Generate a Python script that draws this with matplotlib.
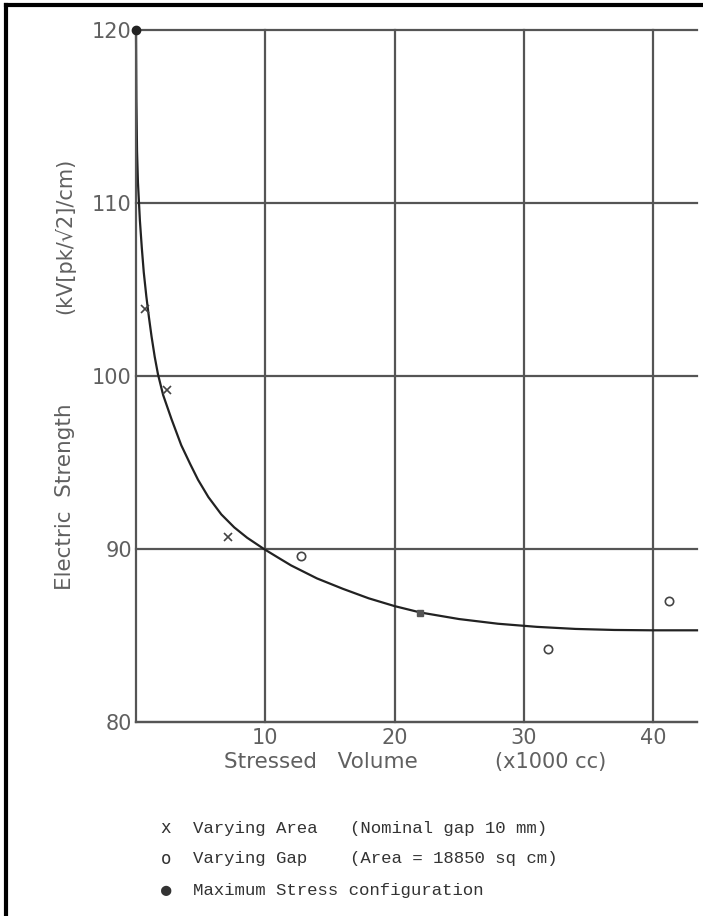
import matplotlib.pyplot as plt
from matplotlib.lines import Line2D

# fitted curve (x in thousands of cc, y in kV/cm)
curve_x = [0, 0.03, 0.08, 0.15, 0.3, 0.45, 0.6, 0.8, 1.0, 1.2, 1.45, 1.7, 2.1, 2.75, 3.5, 4.2, 4.8, 5.6, 6.6, 7.6, 8.6, 9.9, 11, 12, 14, 16, 18, 20, 22, 25, 28, 31, 34, 37, 40, 43.4]
curve_y = [120, 116, 113, 111.2, 109, 107.4, 106, 104.6, 103.4, 102.3, 101.1, 100.1, 98.9, 97.5, 96.0, 94.9, 94.0, 93.0, 92.0, 91.25, 90.65, 90.0, 89.5, 89.05, 88.3, 87.7, 87.15, 86.7, 86.33, 85.95, 85.68, 85.5, 85.38, 85.32, 85.3, 85.3]

area_x = [0.7, 2.4, 7.1]
area_y = [103.9, 99.2, 90.7]

gap_x = [12.8, 31.9, 41.2]
gap_y = [89.6, 84.2, 87.0]

mid_x = [22.0]
mid_y = [86.3]

max_x = [0]
max_y = [120]

xticks = [10, 20, 30, 40]
yticks = [80, 90, 100, 110, 120]

W, H = 703, 916
grey = '#555555'

fig = plt.figure(figsize=(W/100, H/100), dpi=100)
ax = fig.add_axes([136/W, 1-722/H, (697-136)/W, (722-30)/H])
ax.set_xlim(0, 43.4)
ax.set_ylim(80, 120)

for s in ['top', 'right']:
	ax.spines[s].set_visible(False)
for s in ['left', 'bottom']:
	ax.spines[s].set_color(grey)
	ax.spines[s].set_linewidth(1.6)

ax.set_xticks(xticks)
ax.set_yticks(yticks)
ax.tick_params(length=0, labelsize=15, labelcolor='#606060')
ax.tick_params(axis='x', pad=4)
ax.tick_params(axis='y', pad=3)
ax.grid(True, color=grey, linewidth=1.6)
for gl in ax.get_xgridlines() + ax.get_ygridlines():
	gl.set_clip_on(False)

ax.plot(curve_x, curve_y, color='#222222', linewidth=1.6, clip_on=False, solid_joinstyle='round')
ax.plot(area_x, area_y, 'x', color='#444444', markersize=6, markeredgewidth=1.2)
ax.plot(gap_x, gap_y, 'o', mfc='none', mec='#444444', markersize=6, markeredgewidth=1.2)
ax.plot(mid_x, mid_y, 's', color='#555555', markersize=5, markeredgewidth=1.0)
ax.plot(max_x, max_y, 'o', color='#222222', markersize=6, clip_on=False, zorder=5)

# axis titles, placed in pixels
fig.text(65/W, 1-497/H, 'Electric  Strength', rotation=90, ha='center', va='center', fontsize=15.5, color='#606060')
fig.text(65/W, 1-236/H, '(kV[pk/\u221a2]/cm)', rotation=90, ha='center', va='center', fontsize=15, color='#606060')
fig.text(321/W, 1-762/H, 'Stressed   Volume', ha='center', va='center', fontsize=15.5, color='#606060')
fig.text(551/W, 1-762/H, '(x1000 cc)', ha='center', va='center', fontsize=15, color='#606060')

# typewritten legend
mono = 'Liberation Mono'
rows = [('x', 'Varying Area', '(Nominal gap 10 mm)', 828),
	('o', 'Varying Gap', '(Area = 18850 sq cm)', 859),
	('\u25cf', 'Maximum Stress configuration', '', 890)]
for mk, name, note, y in rows:
	fig.text(166/W, 1-y/H, mk, ha='center', va='center', fontsize=12.5, color='#333333', family=['DejaVu Sans Mono'])
	fig.text(193/W, 1-y/H, name, ha='left', va='center', fontsize=12.5, color='#333333', family=mono)
	if note:
		fig.text(350/W, 1-y/H, note, ha='left', va='center', fontsize=12.5, color='#333333', family=mono)

# dark frame on the left and top of the scan
fig.add_artist(Line2D([6/W, 6/W], [0, 1-5/H], color='black', linewidth=3, transform=fig.transFigure))
fig.add_artist(Line2D([6/W, 1], [1-5/H, 1-5/H], color='black', linewidth=3, transform=fig.transFigure))

fig.savefig('out.png', dpi=100)
